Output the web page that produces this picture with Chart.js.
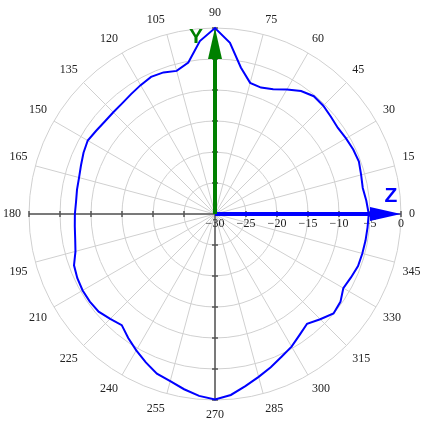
<!DOCTYPE html>
<html>
<head>
<meta charset="utf-8">
<script src="https://cdn.jsdelivr.net/npm/chart.js@4"></script>
<style>
  html, body { margin: 0; padding: 0; background: #fff; }
  #wrap { width: 432px; height: 425px; }
</style>
</head>
<body>
<div id="wrap"><canvas id="polarChart"></canvas></div>
<script>
// angle in degrees, counter-clockwise from the Z axis
const angles = [0, 5, 10, 15, 20, 25, 30, 35, 40, 45, 50, 55,
  60, 65, 70, 75, 80, 85, 90, 95, 100, 105, 110, 115,
  120, 125, 130, 135, 140, 145, 150, 155, 160, 165, 170, 175,
  180, 185, 190, 195, 200, 205, 210, 215, 220, 225, 230, 235,
  240, 245, 250, 255, 260, 265, 270, 275, 280, 285, 290, 295,
  300, 305, 310, 315, 320, 325, 330, 335, 340, 345, 350, 355];

// normalised gain (dB)
const gainDb = [-5.2, -5.5, -5.8, -5.6, -5.3, -5.4, -5.6, -5.8, -5.6, -5.3, -5.2, -5.8,
  -6.8, -7.8, -8.3, -8.1, -6.0, -2.3, 0.0, -2.0, -5.2, -6.1, -5.7, -5.6,
  -6.0, -6.4, -6.7, -6.8, -6.8, -6.6, -6.3, -6.6, -7.0, -7.3, -7.4, -7.5,
  -7.4, -7.3, -7.1, -6.7, -5.8, -5.5, -5.35, -5.35, -5.5, -6.1, -6.6, -5.6,
  -4.6, -3.6, -2.6, -2.1, -1.3, -0.55, -0.1, -0.7, -1.8, -2.8, -3.7, -4.6,
  -5.3, -6.2, -6.9, -6.0, -5.05, -5.3, -6.1, -5.8, -5.45, -5.4, -5.35, -5.3];

const tickValues = [-30, -25, -20, -15, -10, -5, 0];
const tickLabels = ["\u221230", "\u221225", "\u221220", "\u221215", "\u221210", "\u22125", "0"];

// radar goes clockwise, so flip the order to get counter-clockwise angles
const n = angles.length;
const chartAngles = angles.map((a, i) => angles[(n - i) % n]);
const chartGain = gainDb.map((g, i) => gainDb[(n - i) % n]);

const axesPlugin = {
    id: "axesArrows",
    beforeDatasetsDraw(chart) {
        const s = chart.scales.r;
        const ctx = chart.ctx;
        const p = (a, v) => s.getPointPositionForValue(chartAngles.indexOf(a), v);
        const c = p(0, -30);
        ctx.save();

        // black axes with tick marks
        ctx.strokeStyle = "#555";
        ctx.lineWidth = 1.5;
        ctx.beginPath();
        ctx.moveTo(p(180, 0).x, p(180, 0).y);
        ctx.lineTo(p(0, 0).x, p(0, 0).y);
        ctx.moveTo(p(90, 0).x, p(90, 0).y);
        ctx.lineTo(p(270, 0).x, p(270, 0).y);
        [0, 180].forEach((a) => tickValues.slice(1).forEach((v) => {
            const q = p(a, v);
            ctx.moveTo(q.x, q.y - 3);
            ctx.lineTo(q.x, q.y + 3);
        }));
        [90, 270].forEach((a) => tickValues.slice(1).forEach((v) => {
            const q = p(a, v);
            ctx.moveTo(q.x - 3, q.y);
            ctx.lineTo(q.x + 3, q.y);
        }));
        ctx.stroke();

        // tick labels under the Z axis
        ctx.fillStyle = "#222";
        ctx.font = "12px 'Liberation Serif'";
        ctx.textAlign = "center";
        ctx.textBaseline = "middle";
        tickValues.forEach((v, i) => {
            const q = p(0, v);
            ctx.fillText(tickLabels[i], q.x, q.y + 10);
        });

        // Z arrow (blue)
        const zTip = p(0, 0);
        ctx.strokeStyle = "#0000ff";
        ctx.fillStyle = "#0000ff";
        ctx.lineWidth = 4;
        ctx.beginPath();
        ctx.moveTo(c.x, c.y);
        ctx.lineTo(zTip.x - 28, zTip.y);
        ctx.stroke();
        ctx.beginPath();
        ctx.moveTo(zTip.x, zTip.y);
        ctx.lineTo(zTip.x - 31, zTip.y - 7);
        ctx.lineTo(zTip.x - 31, zTip.y + 7);
        ctx.closePath();
        ctx.fill();
        ctx.font = "bold 21px 'Liberation Sans'";
        ctx.fillText("Z", zTip.x - 10, zTip.y - 18);

        // Y arrow (green)
        const yTip = p(90, 0);
        ctx.strokeStyle = "#008000";
        ctx.fillStyle = "#008000";
        ctx.beginPath();
        ctx.moveTo(c.x, c.y);
        ctx.lineTo(yTip.x, yTip.y + 28);
        ctx.stroke();
        ctx.beginPath();
        ctx.moveTo(yTip.x, yTip.y);
        ctx.lineTo(yTip.x - 7, yTip.y + 31);
        ctx.lineTo(yTip.x + 7, yTip.y + 31);
        ctx.closePath();
        ctx.fill();
        ctx.fillText("Y", yTip.x - 19, yTip.y + 9);

        ctx.restore();
    },
};

new Chart(document.getElementById("polarChart"), {
    type: "radar",
    data: {
        labels: chartAngles.map(String),
        datasets: [
            {
                label: "Gain",
                data: chartGain,
                borderColor: "#0000ff",
                borderWidth: 2,
                fill: false,
                pointRadius: 0,
                tension: 0,
            },
        ],
    },
    options: {
        responsive: true,
        maintainAspectRatio: false,
        animation: false,
        layout: { padding: { top: 5, bottom: 1, left: 0, right: 8 } },
        plugins: { legend: { display: false }, tooltip: { enabled: false } },
        scales: {
            r: {
                min: -30,
                max: 0,
                startAngle: 90,
                ticks: { stepSize: 5, display: false },
                grid: { circular: true, color: "#d0d0d0", lineWidth: 1 },
                angleLines: {
                    color: "#d0d0d0",
                    lineWidth: (ctx) => (chartAngles[ctx.index] % 15 === 0 ? 1 : 0),
                },
                pointLabels: {
                    padding: 8,
                    color: "#222",
                    font: { family: "'Liberation Serif'", size: 12 },
                    callback: (label) => (Number(label) % 15 === 0 ? label : ""),
                },
            },
        },
    },
    plugins: [axesPlugin],
});
</script>
</body>
</html>
